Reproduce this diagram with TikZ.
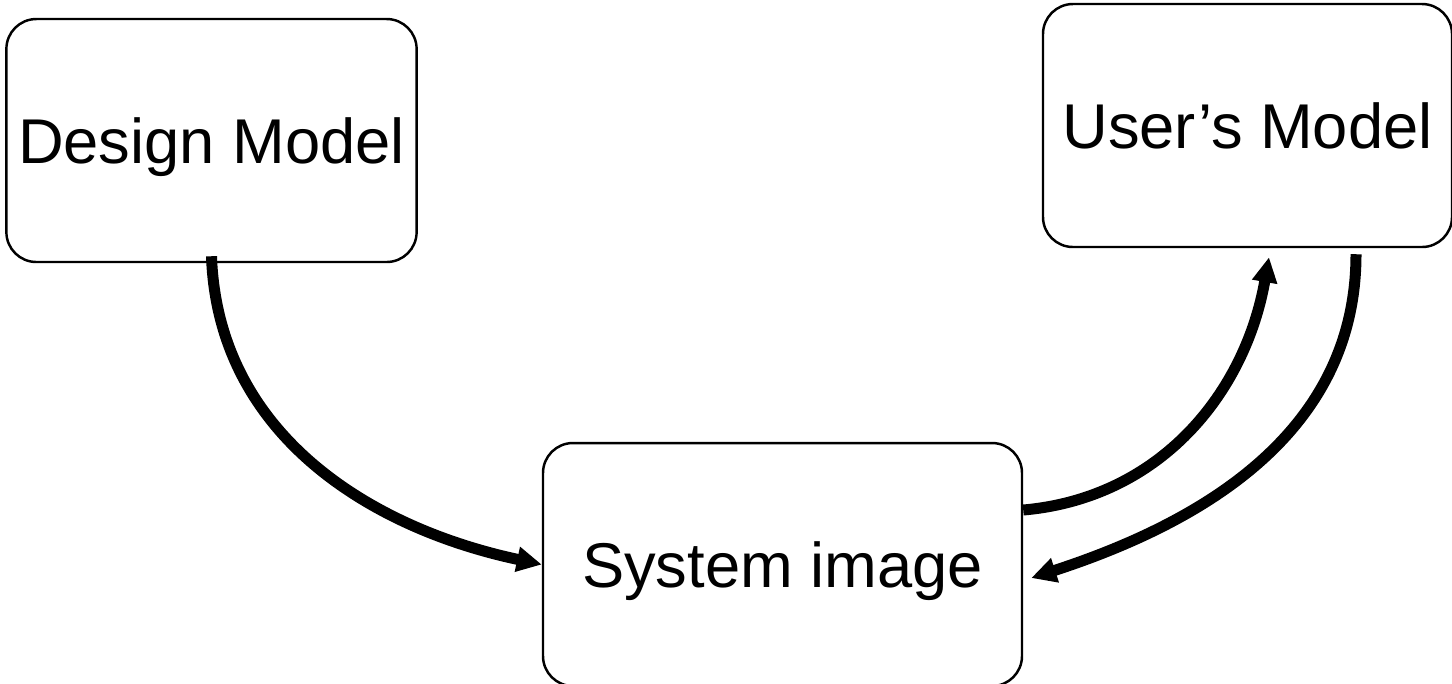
\documentclass[tikz,border=0pt]{standalone}
\usepackage{fontspec}
\setmainfont{Liberation Sans}
\usetikzlibrary{positioning, arrows.meta}

\begin{document}
\begin{tikzpicture}[
		modelbox/.style={draw, line width=0.7pt, rounded corners=0.3cm, minimum height=2.43cm, text depth=0pt, font=\fontsize{18pt}{21pt}\selectfont},
		flow/.style={line width=0.11cm, -{Triangle[length=0.25cm, width=0.24cm]}}]
		\useasboundingbox (0,0) rectangle (14.52,-6.83);
		\node[modelbox, minimum width=3.97cm] (dm) at (2.115,-1.405) {Design Model};
		\node[modelbox, minimum width=4.09cm] (um) at (12.475,-1.255) {User’s Model};
		\node[modelbox, minimum width=4.79cm] (si) at (7.825,-5.645) {System image};
		
		\draw[flow] ([yshift=0.07cm]dm.south) to[out=-88, in=168] (si.west);
		\draw[flow] ([yshift=0.545cm]si.east) to[out=5, in=-100] ([xshift=0.215cm, yshift=-0.09cm]um.south);
		\draw[flow] ([xshift=1.085cm, yshift=-0.06cm]um.south) to[out=-90, in=18] ([xshift=0.08cm, yshift=-0.135cm]si.east);
\end{tikzpicture}
\end{document}
